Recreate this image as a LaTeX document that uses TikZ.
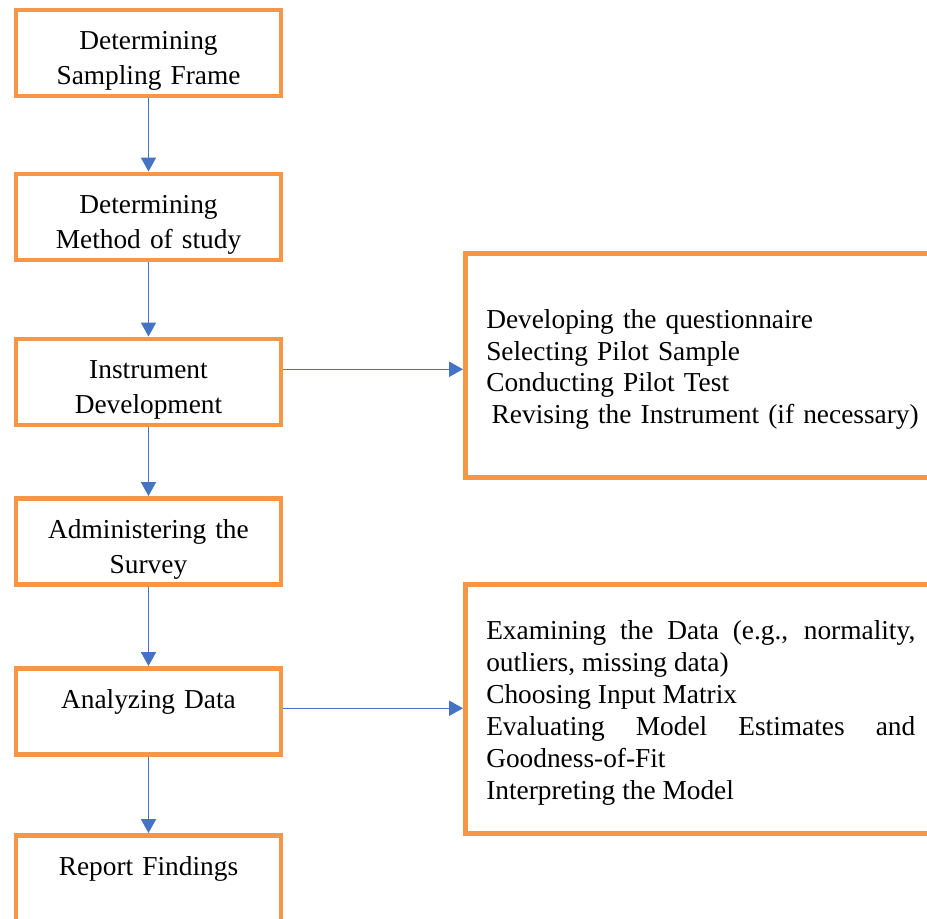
\documentclass[tikz,border=0pt]{standalone}
\usepackage{fontspec}
\setmainfont{Liberation Serif}
\usetikzlibrary{arrows.meta,calc}
\definecolor{stageorange}{HTML}{F79646}
\definecolor{flowblue}{HTML}{4472C4}
\newdimen\unitpx
\unitpx=0.4386pt

\begin{document}
\begin{tikzpicture}[x=\unitpx,y=-\unitpx,
  stage/.style={draw=stageorange,line width=4.5\unitpx,inner sep=0pt,anchor=north,
    text width=265\unitpx,align=center,text height=40\unitpx,text depth=46\unitpx,
    font=\fontsize{12}{15.4}\selectfont},
  detail/.style={draw=stageorange,line width=4.5\unitpx,inner xsep=21\unitpx,inner ysep=0pt,
    anchor=north west,text width=429\unitpx,font=\fontsize{12}{14}\selectfont},
  flow/.style={-{Triangle[length=6.1pt,width=6.6pt]},flowblue,line width=0.66pt}]

\path[use as bounding box,clip] (0,0) rectangle (927,918);

% survey stages
\node[stage] (frame)   at (148.5,7.5)   {Determining\\Sampling Frame};
\node[stage] (method)  at (148.5,171.5) {Determining\\Method of study};
\node[stage] (instr)   at (148.5,336.5) {Instrument\\Development};
\node[stage] (admin)   at (148.5,496)   {Administering the\\Survey};
\node[stage] (analyze) at (148.5,666)   {Analyzing Data};
\node[stage] (report)  at (148.5,833)   {Report Findings};

% sub-steps
\node[detail,align=left,text width=445\unitpx,minimum height=224\unitpx] (instrsteps) at (463,251)
{\rule{0pt}{12pt}Developing the questionnaire\\
Selecting Pilot Sample\\
Conducting Pilot Test\\
\hspace*{0.2em}Revising the Instrument (if necessary)};

\node[detail,align=justify,minimum height=249\unitpx] (datasteps) at (463,582)
{\rule{0pt}{12pt}Examining the Data (e.g., normality,\linebreak
outliers, missing data)\\
Choosing Input Matrix\\
Evaluating Model Estimates and\linebreak
Goodness-of-Fit\\
Interpreting the Model};

\foreach \a/\b in {frame/method,method/instr,instr/admin,admin/analyze,analyze/report}
  \draw[flow] (\a) -- (\b);

\draw[flow] ([yshift=12.5\unitpx]instr.east) -- ([yshift=12.5\unitpx]instr.east -| instrsteps.west);
\draw[flow] ([yshift=3\unitpx]analyze.east) -- ([yshift=3\unitpx]analyze.east -| datasteps.west);

\end{tikzpicture}
\end{document}
